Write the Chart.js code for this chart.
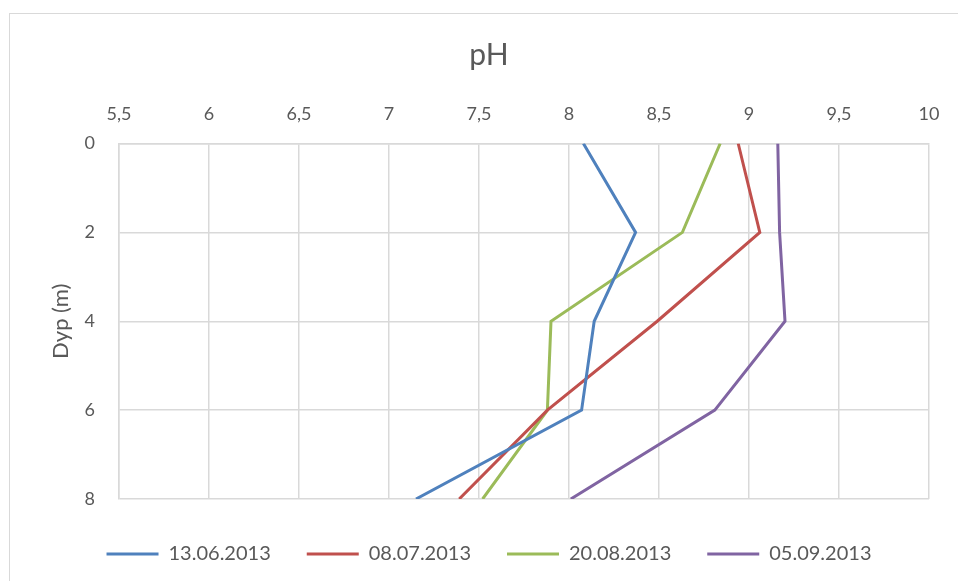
<!DOCTYPE html>
<html>
<head>
<meta charset="utf-8">
<script src="https://cdn.jsdelivr.net/npm/chart.js@4/dist/chart.umd.min.js"></script>
<style>
  html, body { margin: 0; padding: 0; background: #ffffff; overflow: hidden; width: 958px; height: 581px; }
  #frame { position: absolute; left: 9px; top: 13px; width: 980px; height: 600px; border: 1px solid #d9d9d9; background: #fff; }
  #wrap { position: absolute; left: 0; top: 0; width: 958px; height: 560px; }
</style>
</head>
<body>
<div id="frame"><div id="wrap"><canvas id="c" width="958" height="560"></canvas></div></div>
<script>
// ---- data ----
const depths = [0, 2, 4, 6, 8];
const seriesNames = ['13.06.2013', '08.07.2013', '20.08.2013', '05.09.2013'];
const ph_13_06_2013 = [8.08, 8.37, 8.14, 8.07, 7.15];
const ph_08_07_2013 = [8.94, 9.06, 8.49, 7.88, 7.39];
const ph_20_08_2013 = [8.84, 8.63, 7.90, 7.88, 7.52];
const ph_05_09_2013 = [9.16, 9.17, 9.20, 8.81, 8.01];
const xTickValues = [5.5, 6, 6.5, 7, 7.5, 8, 8.5, 9, 9.5, 10];
const xTickLabels = ['5,5', '6', '6,5', '7', '7,5', '8', '8,5', '9', '9,5', '10'];
const yTickLabels = ['0', '2', '4', '6', '8'];
const titleText = 'pH';
const yTitleText = 'Dyp (m)';

const colors = ['#4F81BD', '#C0504D', '#9BBB59', '#8064A2'];
const allSeries = [ph_13_06_2013, ph_08_07_2013, ph_20_08_2013, ph_05_09_2013];

const datasets = allSeries.map((vals, i) => ({
  label: seriesNames[i],
  data: vals.map((v, k) => ({ x: v, y: depths[k] })),
  borderColor: colors[i],
  backgroundColor: colors[i],
  borderWidth: 3,
  pointRadius: 0,
  pointHoverRadius: 0,
  tension: 0,
  fill: false,
  pointStyle: 'line'
}));

const FONT = 'Lato, "Liberation Sans", sans-serif';
const TXT = '#595959';
const GRID = '#d9d9d9';

new Chart(document.getElementById('c'), {
  type: 'line',
  data: { datasets },
  options: {
    responsive: false,
    animation: false,
    events: [],
    layout: { padding: 0 },
    plugins: {
      title: {
        display: true,
        text: titleText,
        color: TXT,
        font: { family: FONT, size: 30, weight: 'normal' },
        padding: { top: 23, bottom: 10 }
      },
      legend: {
        display: true,
        position: 'bottom',
        labels: {
          usePointStyle: true,
          pointStyleWidth: 52,
          color: TXT,
          font: { family: FONT, size: 20 },
          padding: 36
        }
      },
      tooltip: { enabled: false }
    },
    scales: {
      x: {
        type: 'linear',
        position: 'top',
        min: 5.5,
        max: 10,
        afterBuildTicks: (s) => { s.ticks = xTickValues.map(v => ({ value: v })); },
        ticks: {
          color: TXT,
          font: { family: FONT, size: 18 },
          padding: 19,
          maxRotation: 0,
          autoSkip: false,
          callback: (v, i) => xTickLabels[i]
        },
        grid: { color: GRID, lineWidth: 1.5, drawTicks: false },
        border: { color: GRID, width: 1.5 },
        afterFit: (s) => { s.height = 60.5; }
      },
      y: {
        type: 'linear',
        position: 'left',
        reverse: true,
        min: 0,
        max: 8,
        afterBuildTicks: (s) => { s.ticks = depths.map(v => ({ value: v })); },
        ticks: {
          color: TXT,
          font: { family: FONT, size: 18 },
          padding: 24,
          callback: (v, i) => yTickLabels[i]
        },
        title: {
          display: true,
          text: yTitleText,
          color: TXT,
          font: { family: FONT, size: 22 },
          padding: { top: 38, bottom: 0 }
        },
        grid: { color: GRID, lineWidth: 1.5, drawTicks: false },
        border: { color: GRID, width: 1.5 },
        afterFit: (s) => { s.width = 109; }
      },
      rightGap: {
        type: 'linear',
        axis: 'y',
        position: 'right',
        display: true,
        grid: { display: false, drawTicks: false },
        border: { display: false },
        ticks: { display: false },
        afterFit: (s) => { s.width = 39; }
      },
      bottomGap: {
        type: 'linear',
        axis: 'x',
        position: 'bottom',
        display: true,
        grid: { display: false, drawTicks: false },
        border: { display: false },
        ticks: { display: false },
        afterFit: (s) => { s.height = 9; }
      }
    }
  }
});
</script>
</body>
</html>
